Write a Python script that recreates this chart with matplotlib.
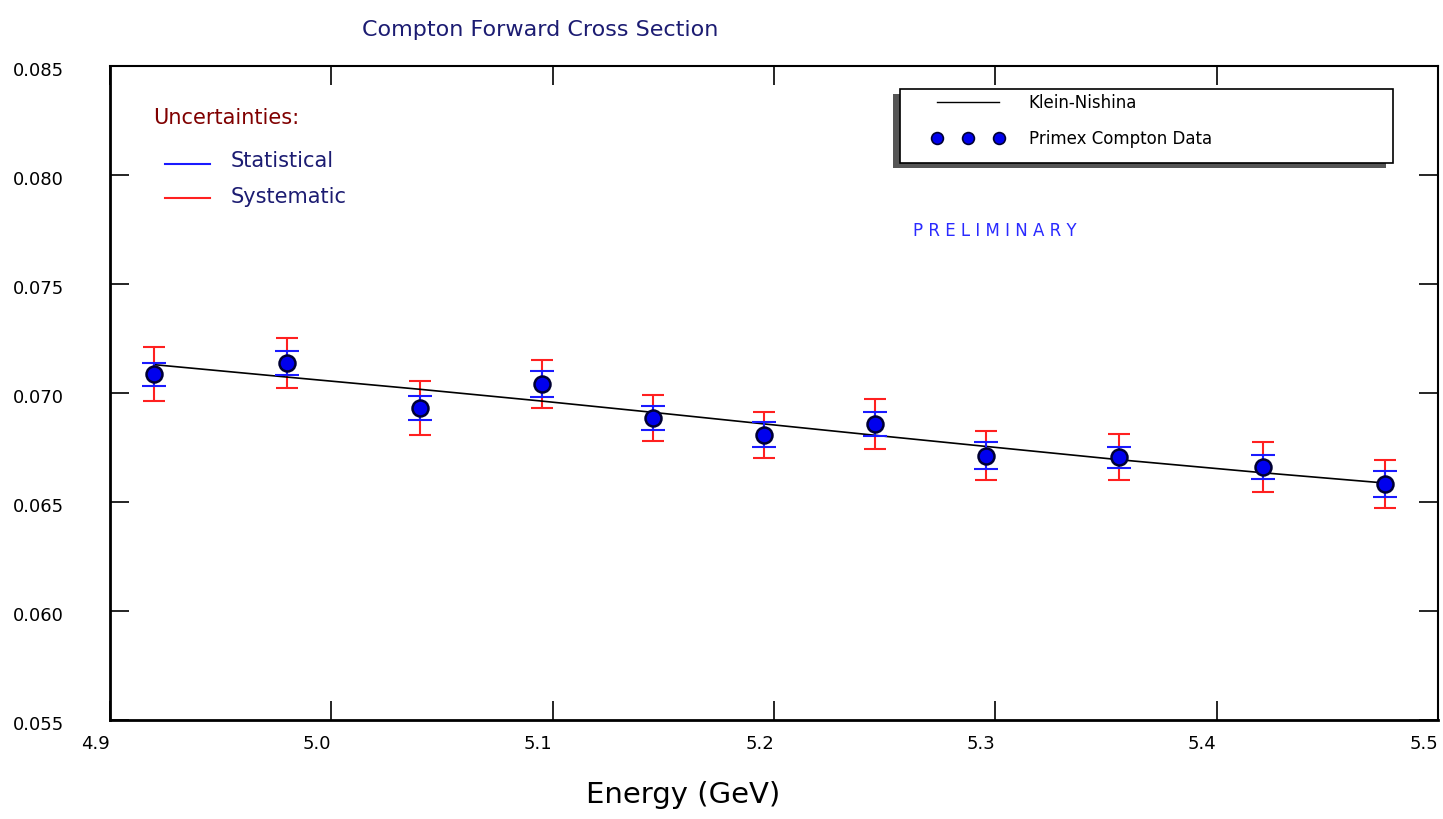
import matplotlib
matplotlib.use("Agg")
import matplotlib.pyplot as plt
import matplotlib.patches as patches
import matplotlib.transforms as mtransforms
from matplotlib.lines import Line2D

plt.rcParams['font.family'] = ['DejaVu Sans']

# data
energy = [4.920, 4.980, 5.040, 5.095, 5.1455, 5.1957, 5.2457, 5.2957, 5.3559, 5.4211, 5.4761]
cross_section = [0.07086, 0.07138, 0.06931, 0.07041, 0.06885, 0.06809,
                 0.06858, 0.06713, 0.06705, 0.06661, 0.06583]
stat_err = [0.00052, 0.00054, 0.00054, 0.00060, 0.00057, 0.00056,
            0.00056, 0.00060, 0.00047, 0.00056, 0.00058]
sys_err = [0.00124, 0.00113, 0.00122, 0.00111, 0.00106, 0.00106,
           0.00114, 0.00111, 0.00106, 0.00116, 0.00111]
klein_nishina = [0.07130, 0.07073, 0.07017, 0.06963, 0.06911, 0.06858,
                 0.06806, 0.06755, 0.06694, 0.06634, 0.06587]

x_ticks = [4.9, 5.0, 5.1, 5.2, 5.3, 5.4, 5.5]
y_ticks = [0.055, 0.060, 0.065, 0.070, 0.075, 0.080, 0.085]

navy = '#1c1c72'
W, H = 1443, 819
AX_L, AX_R, AX_T, AX_B = 110, 1438, 66, 720


def ax_xy(px, py):
    # pixel position in the picture -> axes fraction
    return (px - AX_L) / (AX_R - AX_L), (AX_B - py) / (AX_B - AX_T)


fig = plt.figure(figsize=(W / 100, H / 100), dpi=100)
ax = fig.add_axes([AX_L / W, 1 - AX_B / H, (AX_R - AX_L) / W, (AX_B - AX_T) / H])

ax.errorbar(energy, cross_section, yerr=sys_err, fmt='none', ecolor='#ff2020',
            elinewidth=1.5, capsize=8, capthick=1.5, zorder=2)
ax.errorbar(energy, cross_section, yerr=stat_err, fmt='none', ecolor='#1a1aff',
            elinewidth=1.5, capsize=8.5, capthick=1.5, zorder=3)
ax.plot(energy, klein_nishina, color='black', lw=1.2, zorder=2.5)
ax.plot(energy, cross_section, 'o', ms=11.5, mfc='#0000ee', mec='#000033',
        mew=1.8, zorder=4)

ax.set_xlim(4.9, 5.5)
ax.set_ylim(0.055, 0.085)
ax.set_xticks(x_ticks)
ax.set_yticks(y_ticks)
ax.set_xticklabels([f'{v:.1f}' for v in x_ticks], ha='right')
ax.set_yticklabels([f'{v:.3f}' for v in y_ticks], ha='left')
ax.tick_params(direction='in', length=14, width=1.2, top=True, right=True,
               labelsize=13, colors='black')
ax.tick_params(axis='y', pad=70)
ax.tick_params(axis='x', pad=11)
shift = mtransforms.ScaledTranslation(0, -5 / 100, fig.dpi_scale_trans)
for lab in ax.get_yticklabels():
    lab.set_verticalalignment('center')
    lab.set_transform(lab.get_transform() + shift)
for side in ['left', 'bottom']:
    ax.spines[side].set_linewidth(2)
for side in ['top', 'right']:
    ax.spines[side].set_linewidth(1.5)

fig.text(683 / W, 1 - 795 / H, 'Energy (GeV)', ha='center', va='center',
         fontsize=21, color='black')
fig.text(540 / W, 1 - 30 / H, 'Compton Forward Cross Section', ha='center',
         va='center', fontsize=16, color=navy)

# uncertainty key
fig.text(153 / W, 1 - 118 / H, 'Uncertainties:', ha='left', va='center',
         fontsize=15, color='#800000')
ax.add_line(Line2D([165 / W, 210 / W], [1 - 164 / H, 1 - 164 / H],
                   transform=fig.transFigure, color='#1a1aff', lw=1.5))
ax.add_line(Line2D([165 / W, 210 / W], [1 - 198 / H, 1 - 198 / H],
                   transform=fig.transFigure, color='#ff2020', lw=1.5))
fig.text(231 / W, 1 - 161 / H, 'Statistical', ha='left', va='center',
         fontsize=15, color=navy)
fig.text(231 / W, 1 - 197 / H, 'Systematic', ha='left', va='center',
         fontsize=15, color=navy)

fig.text(995 / W, 1 - 231 / H, 'P R E L I M I N A R Y', ha='center',
         va='center', fontsize=12, color='#2a2aff')

# legend: frame and shadow drawn as patches, entries from the legend
x0, y0 = ax_xy(893, 168)
x1, y1 = ax_xy(1386, 94)
ax.add_patch(patches.Rectangle((x0, y0), x1 - x0, y1 - y0, transform=ax.transAxes,
                               facecolor='#555555', edgecolor='none', zorder=4.8))
x0, y0 = ax_xy(900, 163)
x1, y1 = ax_xy(1393, 89)
ax.add_patch(patches.Rectangle((x0, y0), x1 - x0, y1 - y0, transform=ax.transAxes,
                               facecolor='white', edgecolor='black', lw=1.2, zorder=4.9))

handles = [Line2D([], [], color='black', lw=1),
           Line2D([], [], ls='none', marker='o', ms=8.5, mfc='#0000ee', mec='#000033', mew=1.2)]
leg = ax.legend(handles, ['Klein-Nishina', 'Primex Compton Data'], numpoints=3,
                loc='upper left', bbox_to_anchor=ax_xy(932, 94), frameon=False,
                fontsize=12, handlelength=4.3, handletextpad=1.5,
                borderpad=0, borderaxespad=0, labelspacing=1.05)
leg.set_zorder(5)

fig.savefig('out.png', dpi=100)
